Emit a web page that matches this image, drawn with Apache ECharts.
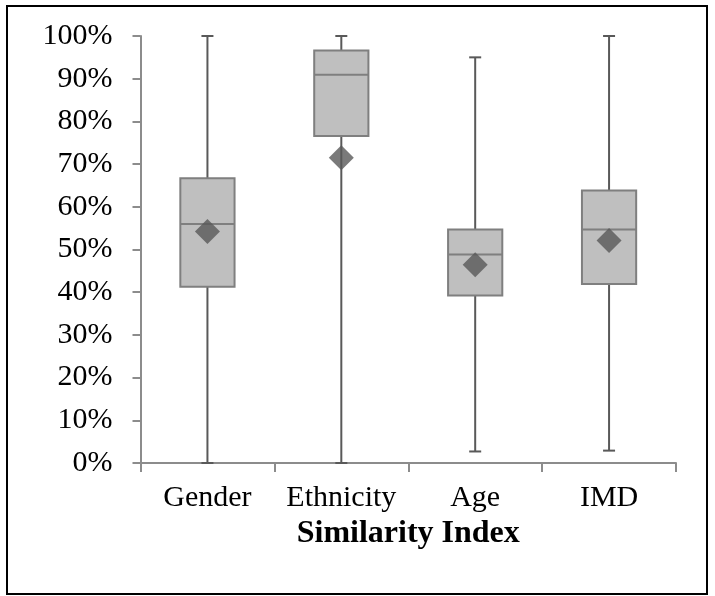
<!DOCTYPE html>
<html>
<head>
<meta charset="utf-8">
<script src="https://cdn.jsdelivr.net/npm/echarts@6/dist/echarts.min.js"></script>
<style>
html,body{margin:0;padding:0;background:#fff;}
#chart{width:715px;height:596px;}
</style>
</head>
<body>
<div id="chart"></div>
<script>
const categories = ['Gender', 'Ethnicity', 'Age', 'IMD'];
const mins    = [0.000, 0.000, 0.027, 0.029];
const q1s     = [0.413, 0.766, 0.392, 0.419];
const medians = [0.560, 0.909, 0.488, 0.547];
const q3s     = [0.667, 0.966, 0.547, 0.638];
const maxs    = [1.000, 1.000, 0.950, 1.000];
const means   = [0.542, 0.715, 0.464, 0.521];
const yTicks  = [0, 0.1, 0.2, 0.3, 0.4, 0.5, 0.6, 0.7, 0.8, 0.9, 1.0];

const boxData = categories.map((c, i) => [i, mins[i], q1s[i], medians[i], q3s[i], maxs[i]]);
const meanData = categories.map((c, i) => [i, means[i]]);

const chart = echarts.init(document.getElementById('chart'), null, {renderer: 'canvas'});
const FONT = '"Liberation Serif", "Times New Roman", serif';
const option = {
  animation: false,
  backgroundColor: '#fff',
  grid: {left: 140.5, right: 39, top: 36, bottom: 133},
  xAxis: {
    type: 'category',
    data: categories,
    boundaryGap: true,
    axisLine: {lineStyle: {color: '#8c8c8c', width: 2}},
    axisTick: {show: true, interval: 0, length: 9, lineStyle: {color: '#8c8c8c', width: 2}},
    axisLabel: {interval: 0, color: '#000', fontFamily: FONT, fontSize: 30, margin: 20},
    name: 'Similarity Index',
    nameLocation: 'middle',
    nameGap: 53,
    nameTextStyle: {color: '#000', fontFamily: FONT, fontSize: 32, fontWeight: 'bold'}
  },
  yAxis: {
    type: 'value',
    min: 0, max: 1, interval: 0.1,
    axisLine: {show: true, lineStyle: {color: '#8c8c8c', width: 2}},
    axisTick: {show: true, length: 8, lineStyle: {color: '#8c8c8c', width: 2}},
    splitLine: {show: false},
    axisLabel: {
      color: '#000', fontFamily: FONT, fontSize: 30, margin: 28,
      formatter: v => {
        const t = yTicks.find(k => Math.abs(k - v) < 1e-6);
        return Math.round((t !== undefined ? t : v) * 100) + '%';
      }
    }
  },
  graphic: [{
    type: 'rect',
    shape: {x: 7, y: 6, width: 700, height: 588},
    style: {fill: 'none', stroke: '#000', lineWidth: 2},
    z: 100
  }],
  series: [{
    type: 'custom',
    data: boxData,
    clip: false,
    z: 2,
    renderItem: function (params, api) {
      const i = api.value(0);
      const pMin = api.coord([i, api.value(1)]);
      const pQ1 = api.coord([i, api.value(2)]);
      const pMed = api.coord([i, api.value(3)]);
      const pQ3 = api.coord([i, api.value(4)]);
      const pMax = api.coord([i, api.value(5)]);
      const bw = api.size([1, 0])[0] * 0.405;
      const cx = pMed[0];
      const cap = 6;
      const wStyle = {stroke: '#595959', lineWidth: 2};
      const bStyle = {stroke: '#7f7f7f', lineWidth: 2};
      return {
        type: 'group',
        children: [
          {type: 'line', shape: {x1: cx, y1: pMin[1], x2: cx, y2: pQ1[1]}, style: wStyle},
          {type: 'line', shape: {x1: cx, y1: pQ3[1], x2: cx, y2: pMax[1]}, style: wStyle},
          {type: 'line', shape: {x1: cx - cap, y1: pMin[1], x2: cx + cap, y2: pMin[1]}, style: wStyle},
          {type: 'line', shape: {x1: cx - cap, y1: pMax[1], x2: cx + cap, y2: pMax[1]}, style: wStyle},
          {type: 'rect', shape: {x: cx - bw / 2, y: pQ3[1], width: bw, height: pQ1[1] - pQ3[1]},
           style: {fill: '#bfbfbf', stroke: '#7f7f7f', lineWidth: 2}},
          {type: 'line', shape: {x1: cx - bw / 2, y1: pMed[1], x2: cx + bw / 2, y2: pMed[1]}, style: bStyle}
        ]
      };
    }
  }, {
    type: 'scatter',
    data: meanData,
    symbol: 'diamond',
    symbolSize: [25, 25],
    itemStyle: {color: '#595959'},
    z: 3
  }]
};
chart.setOption(option);
</script>
</body>
</html>
